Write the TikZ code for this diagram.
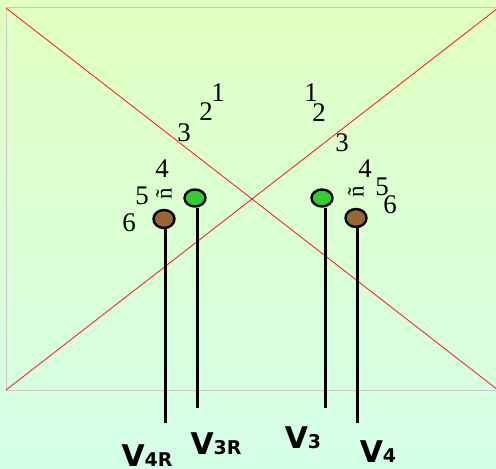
\documentclass[tikz,border=0pt]{standalone}
\usepackage{fontspec}
\setmainfont{Liberation Serif}
\newfontfamily\leadfont{DejaVu Sans}
\usepackage{tikz}
\usetikzlibrary{shapes,positioning,calc}
\definecolor{bgtop}{RGB}{224,255,192}
\definecolor{bgbottom}{RGB}{212,255,232}
\definecolor{framegrey}{RGB}{200,200,200}
\definecolor{axisred}{RGB}{255,40,40}
\definecolor{elgreen}{RGB}{51,204,51}
\definecolor{elbrown}{RGB}{153,102,51}
\tikzset{
    electrode/.style={draw=black, line width=2.4bp, ellipse, fill=#1,
                      minimum width=21bp, minimum height=17bp, inner sep=0pt},
    stem/.style={line width=3bp, black},
    num/.style={font=\fontsize{27}{27}\selectfont, inner sep=0pt},
    tilde/.style={font=\fontsize{23}{23}\selectfont, inner sep=0pt, rotate=90},
    lead/.style={font=\fontsize{30}{30}\leadfont\bfseries, inner sep=0pt, anchor=base},
}
\newcommand{\sublead}[1]{{\fontsize{19}{19}\selectfont #1}}

\begin{document}
\begin{tikzpicture}[x=1bp, y=-1bp]
    \useasboundingbox (0,0) rectangle (496,469);
    \shade[top color=bgtop, bottom color=bgbottom] (0,0) rectangle (496,469);
    \draw[framegrey, line width=1bp] (6,8) rectangle (498,390);
    \draw[axisred, line width=0.9bp] (6,8) -- (498,390);
    \draw[axisred, line width=0.9bp] (498,8) -- (6,390);

    % left side
    \node[num] (l1) at (218,93) {1};
    \node[num] (l2) at (206,112) {2};
    \node[num] (l3) at (184,133) {3};
    \node[num] (l4) at (162,169) {4};
    \node[num] (l5) at (142,196) {5};
    \node[num] (l6) at (129,223) {6};
    \node[tilde] (ln) at (164,194) {ñ};

    % right side
    \node[num] (r1) at (311,93) {1};
    \node[num] (r2) at (319,113) {2};
    \node[num] (r3) at (342,143) {3};
    \node[num] (r4) at (365,169) {4};
    \node[num] (r5) at (382,187) {5};
    \node[num] (r6) at (390,205) {6};
    \node[tilde] (rn) at (356,192) {ñ};

    \node[electrode=elbrown, minimum height=18bp] (v4r) at (164,219) {};
    \node[electrode=elgreen] (v3r) at (195,198) {};
    \node[electrode=elgreen] (v3) at (322,198) {};
    \node[electrode=elbrown, minimum height=18bp] (v4) at (356,218) {};

    \coordinate (v4rend) at (165,423);
    \coordinate (v3rend) at (197,408);
    \coordinate (v3end) at (325,408);
    \coordinate (v4end) at (357,423);

    \draw[stem] (v4r.south -| v4rend) -- (v4rend);
    \draw[stem] (v3r.south -| v3rend) -- (v3rend);
    \draw[stem] (v3.south -| v3end) -- (v3end);
    \draw[stem] (v4.south -| v4end) -- (v4end);

    \node[lead] (v4rlabel) at (147,466) {V\sublead{4R}};
    \node[lead] (v3rlabel) at (216,454) {V\sublead{3R}};
    \node[lead] (v3label) at (303,448) {V\sublead{3}};
    \node[lead] (v4label) at (378,462) {V\sublead{4}};
\end{tikzpicture}
\end{document}
